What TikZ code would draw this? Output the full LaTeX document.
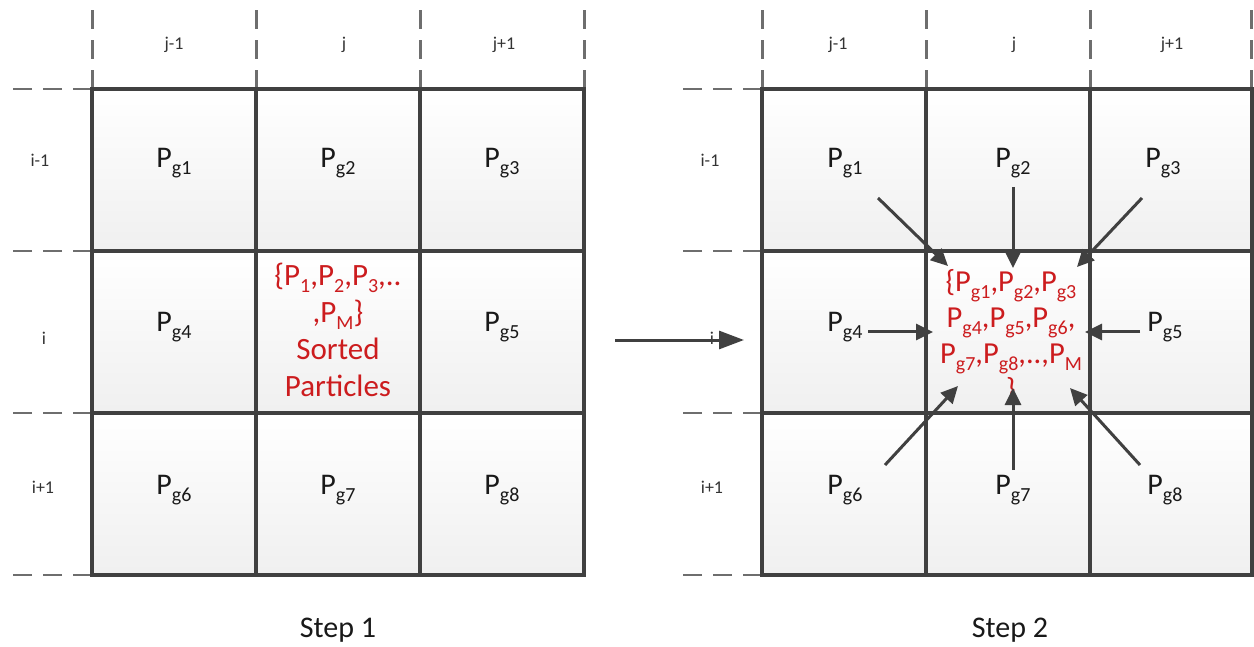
\documentclass[tikz,border=0pt]{standalone}
\usepackage{fontspec}
\setmainfont{Carlito}
\usetikzlibrary{arrows.meta}
\definecolor{gridc}{RGB}{64,64,64}
\definecolor{dashc}{RGB}{110,110,110}
\definecolor{pred}{RGB}{204,28,30}
\newcommand\Pmain[1]{P\raisebox{-0.22em}{\fontsize{20}{20}\selectfont #1}}
\begin{document}
\begin{tikzpicture}[x=1pt,y=-1pt,
  cell/.style={draw=gridc,line width=3.2pt,top color=white,bottom color=black!6,
    minimum width=164pt,minimum height=162pt,inner sep=0pt,outer sep=0pt},
  lastcell/.style={cell,minimum width=162pt},
  guide/.style={draw=dashc,line width=2.8pt,dash pattern=on 19pt off 11pt},
  idx/.style={font=\fontsize{18}{18}\selectfont,text=black!80,inner sep=0pt},
  plabel/.style={font=\fontsize{30}{30}\selectfont,text=black!90,inner sep=0pt},
  redtxt/.style={font=\fontsize{31}{37}\selectfont,text=pred,align=center,inner sep=0pt},
  steplabel/.style={font=\fontsize{30}{30}\selectfont,text=black!90,inner sep=0pt},
  flow/.style={draw=gridc,line width=3pt,-{Triangle[length=17pt,width=16pt]}},
  bigflow/.style={draw=gridc,line width=3pt,-{Triangle[length=25pt,width=18pt]}}
]
\useasboundingbox (0,0) rectangle (1254,647);

% ---------- guides (dashed) ----------
\foreach \x in {92.5,256.5,420.5,584.5,762.5,926.5,1090.5,1251.5}
  \draw[guide] (\x,89) -- (\x,8);
\foreach \y in {89,251,413,575}{
  \draw[guide] (92,\y) -- (10,\y);
  \draw[guide] (762,\y) -- (680,\y);
}

% ---------- left grid ----------
\node[cell] (L11) at (174,170) {};
\node[cell] (L12) at (338,170) {};
\node[cell] (L13) at (502,170) {};
\node[cell] (L21) at (174,332) {};
\node[cell] (L22) at (338,332) {};
\node[cell] (L23) at (502,332) {};
\node[cell] (L31) at (174,494) {};
\node[cell] (L32) at (338,494) {};
\node[cell] (L33) at (502,494) {};

% ---------- right grid ----------
\node[cell] (R11) at (844,170) {};
\node[cell] (R12) at (1008,170) {};
\node[lastcell] (R13) at (1171,170) {};
\node[cell] (R21) at (844,332) {};
\node[cell] (R22) at (1008,332) {};
\node[lastcell] (R23) at (1171,332) {};
\node[cell] (R31) at (844,494) {};
\node[cell] (R32) at (1008,494) {};
\node[lastcell] (R33) at (1171,494) {};

% ---------- index labels ----------
\node[idx] (Ljm) at (174,45) {j-1};
\node[idx] (Lj)  at (344,45) {j};
\node[idx] (Ljp) at (504,45) {j+1};
\node[idx] (Lim) at (40,160) {i-1};
\node[idx] (Li)  at (44,338) {i};
\node[idx] (Lip) at (43,487) {i+1};
\node[idx] (Rjm) at (838,45) {j-1};
\node[idx] (Rj)  at (1014,45) {j};
\node[idx] (Rjp) at (1172,45) {j+1};
\node[idx] (Rim) at (710,160) {i-1};
\node[idx] (Ri)  at (712,338) {i};
\node[idx] (Rip) at (712,487) {i+1};

% ---------- left labels ----------
\node[plabel] (lp1) at (174,163) {\Pmain{g1}};
\node[plabel] (lp2) at (338,163) {\Pmain{g2}};
\node[plabel] (lp3) at (502,163) {\Pmain{g3}};
\node[plabel] (lp4) at (174,327) {\Pmain{g4}};
\node[plabel] (lp5) at (502,327) {\Pmain{g5}};
\node[plabel] (lp6) at (174,490) {\Pmain{g6}};
\node[plabel] (lp7) at (338,490) {\Pmain{g7}};
\node[plabel] (lp8) at (502,490) {\Pmain{g8}};
\node[redtxt] (sorted) at (338,330) {\{\Pmain{1},\Pmain{2},\Pmain{3},..\\,\Pmain{M}\}\\Sorted\\Particles};

% ---------- right labels ----------
\node[plabel] (rp1) at (845,163) {\Pmain{g1}};
\node[plabel] (rp2) at (1013,163) {\Pmain{g2}};
\node[plabel] (rp3) at (1163,163) {\Pmain{g3}};
\node[plabel] (rp4) at (845,327) {\Pmain{g4}};
\node[plabel] (rp5) at (1165,327) {\Pmain{g5}};
\node[plabel] (rp6) at (845,490) {\Pmain{g6}};
\node[plabel] (rp7) at (1013,490) {\Pmain{g7}};
\node[plabel] (rp8) at (1165,490) {\Pmain{g8}};
\node[redtxt,font=\fontsize{30.5}{36}\selectfont] (merged) at (1011,337)
  {\{\Pmain{g1},\Pmain{g2},\Pmain{g3}\\\Pmain{g4},\Pmain{g5},\Pmain{g6},\\\Pmain{g7},\Pmain{g8},..,\Pmain{M}\\\}};

% ---------- step labels ----------
\node[steplabel] (s1) at (338,630) {Step 1};
\node[steplabel] (s2) at (1010,630) {Step 2};

% ---------- arrows ----------
\coordinate (mA) at (615,340);
\coordinate (mB) at (744,340);
\draw[bigflow] (mA) -- (mB);

\coordinate (a1) at (878,198);  \coordinate (b1) at (948,266);
\coordinate (a2) at (1013,187); \coordinate (b2) at (1013,268);
\coordinate (a3) at (1142,198); \coordinate (b3) at (1077,267);
\coordinate (a4) at (868,332);  \coordinate (b4) at (933,332);
\coordinate (a5) at (1140,332); \coordinate (b5) at (1085,332);
\coordinate (a6) at (885,465);  \coordinate (b6) at (958,386);
\coordinate (a7) at (1013,470); \coordinate (b7) at (1013,388);
\coordinate (a8) at (1140,465); \coordinate (b8) at (1070,388);
\foreach \k in {1,...,8}
  \draw[flow] (a\k) -- (b\k);
\end{tikzpicture}
\end{document}
